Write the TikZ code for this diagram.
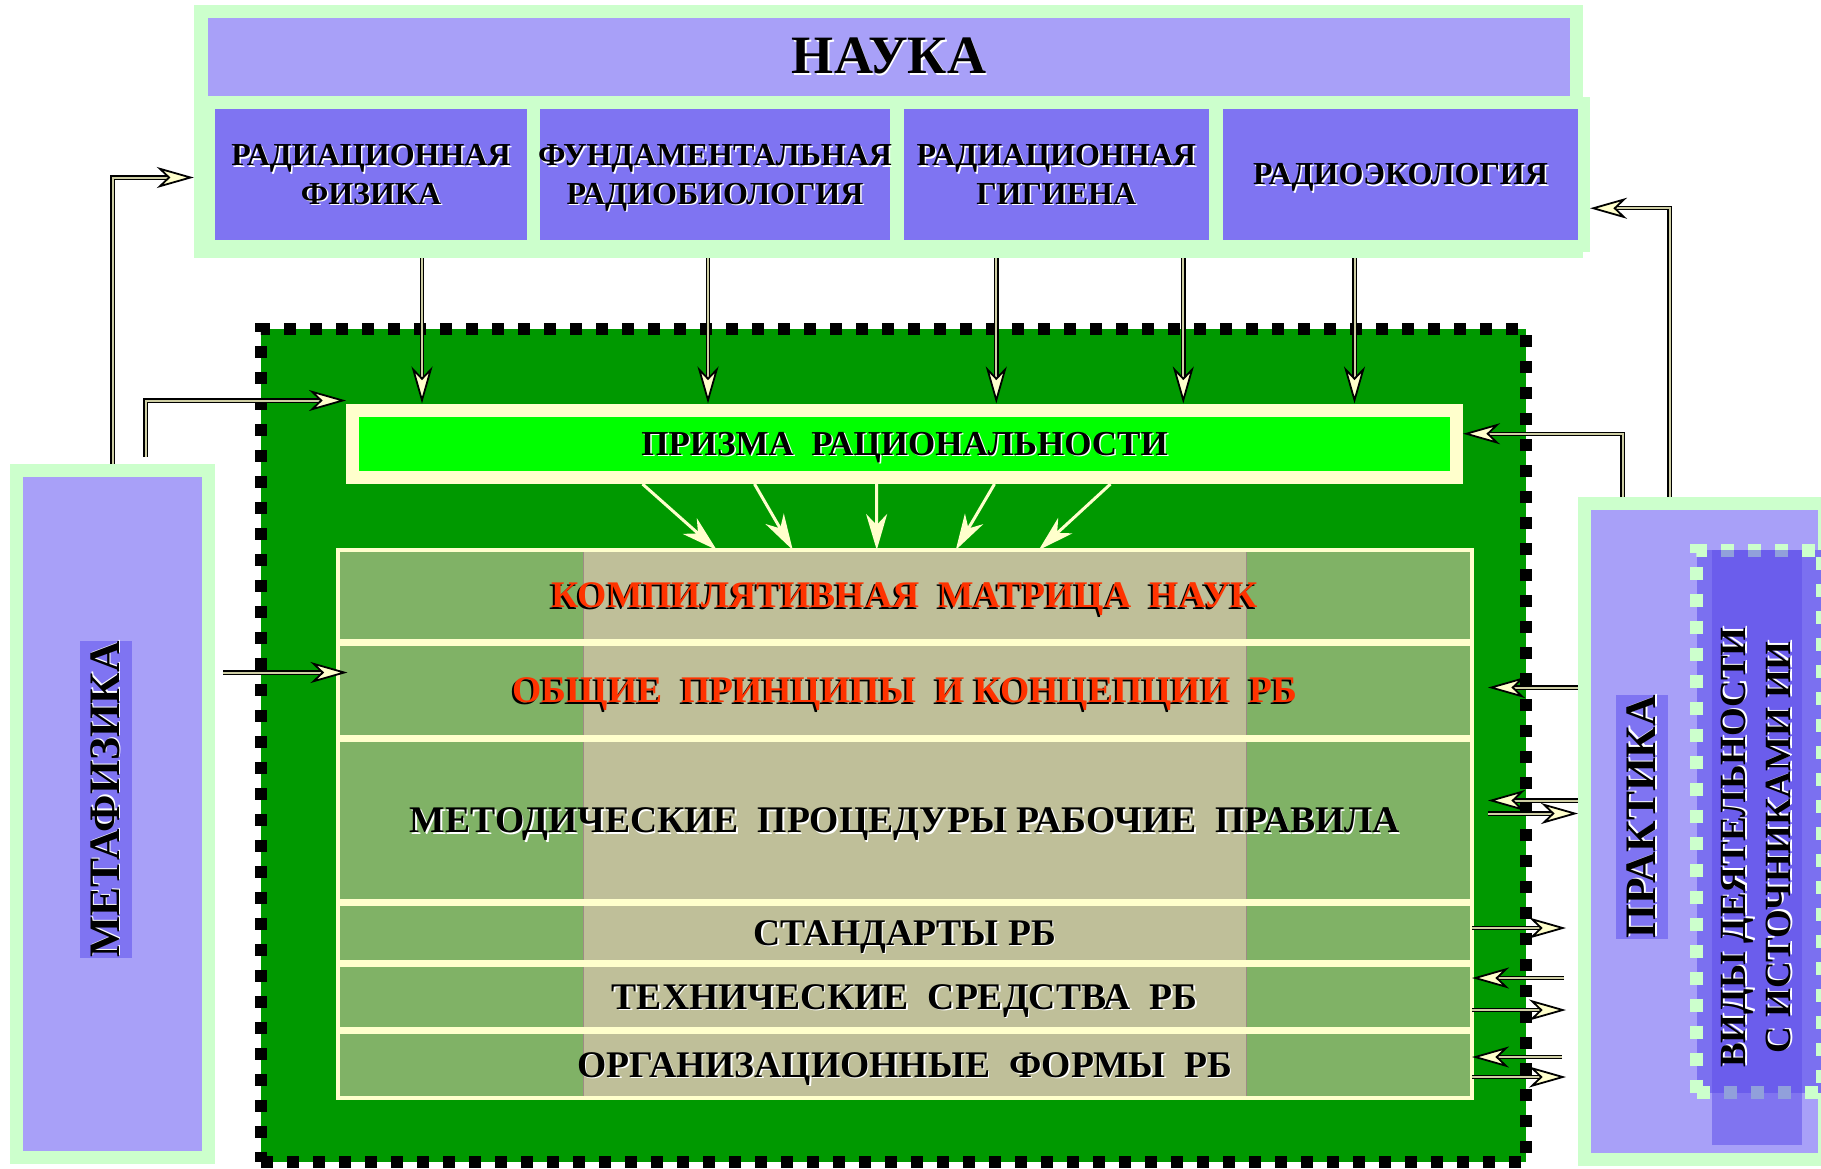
\documentclass[tikz,border=0pt]{standalone}
\usepackage{fontspec}
\setmainfont{Liberation Serif}
\usetikzlibrary{arrows.meta, positioning}

\definecolor{frmgreen}{HTML}{CCFFCC}
\definecolor{bandlav}{HTML}{A8A0F8}
\definecolor{subpurple}{HTML}{7F74F2}
\definecolor{midpurple}{HTML}{7B70F0}
\definecolor{deeppurple}{HTML}{5D4DE9}
\definecolor{coregreen}{HTML}{009900}
\definecolor{paleyel}{HTML}{FFFFCC}
\definecolor{prismgreen}{HTML}{00FF00}
\definecolor{rowgreen}{HTML}{80B266}
\definecolor{rowtan}{HTML}{BFBF99}
\definecolor{tanline}{HTML}{9C8C84}
\definecolor{hotred}{HTML}{FF3300}
\definecolor{lineyel}{HTML}{CFCFA5}

% text with a light shadow (black) or a dark shadow (red)
\newcommand{\shw}[1]{\leavevmode\rlap{\kern1.5pt\raisebox{-1.5pt}{\color{white}#1}}#1}
\newcommand{\shr}[1]{\leavevmode\rlap{\kern-2pt\raisebox{-2pt}{\color{black}#1}}{\color{hotred}#1}}

\begin{document}
\begin{tikzpicture}[x=1pt, y=-1pt,
    sciframe/.style={rectangle, fill=frmgreen, inner sep=0pt},
    band/.style={rectangle, fill=bandlav, inner sep=0pt, font=\bfseries\fontsize{54}{62}\selectfont},
    subbox/.style={rectangle, fill=subpurple, draw=frmgreen, line width=12pt, minimum height=142.5pt, inner sep=0pt, text depth=0pt, align=center, font=\bfseries\fontsize{32}{38.5}\selectfont},
    side/.style={rectangle, fill=bandlav, draw=frmgreen, line width=13pt},
    lbl/.style={rectangle, fill=subpurple, rotate=90, inner sep=0pt, font=\bfseries\fontsize{43.5}{50}\selectfont},
    corebox/.style={rectangle, fill=coregreen, draw=black, line width=12pt, dash pattern=on 12pt off 14pt},
    prismbox/.style={rectangle, fill=prismgreen, draw=paleyel, line width=13pt, inner sep=0pt, text depth=0pt, font=\bfseries\fontsize{35}{42}\selectfont},
    matrow/.style={rectangle, fill=rowgreen, draw=paleyel, line width=4pt, outer sep=0pt, minimum width=1134.5pt, inner sep=0pt, text depth=0pt, font=\bfseries\fontsize{37.6}{44}\selectfont,
        path picture={\fill[rowtan, draw=tanline, line width=1pt] ([xshift=245.5pt]path picture bounding box.south west) rectangle ([xshift=-226pt]path picture bounding box.north east);}},
    conn/.style={draw=black, line width=1.2pt, double=lineyel, double distance=2pt, -{Stealth[length=37pt, width=21pt, inset=11pt, line width=1.8pt, fill=paleyel]}},
    lite/.style={draw=paleyel, line width=3pt, -{Stealth[length=36pt, width=21pt, inset=11pt]}}
]
\useasboundingbox (0,0) rectangle (1821,1168);

% science block
\node (sci) [sciframe, minimum width=1389pt, minimum height=253pt] at (888.5,131.5) {};
\node (nauka) [band, minimum width=1362pt, minimum height=78pt] at (889,57) {\shw{НАУКА}};
\node (phys) [subbox, minimum width=324pt] at (371,174.25) {\shw{РАДИАЦИОННАЯ}\\\shw{ФИЗИКА}};
\node (biol) [subbox, minimum width=362pt] at (715,174.25) {\shw{ФУНДАМЕНТАЛЬНАЯ}\\\shw{РАДИОБИОЛОГИЯ}};
\node (hyg) [subbox, minimum width=317.4pt] at (1056.3,174.25) {\shw{РАДИАЦИОННАЯ}\\\shw{ГИГИЕНА}};
\node (eco) [subbox, minimum width=367pt] at (1400.5,174.25) {\shw{РАДИОЭКОЛОГИЯ}};

% metaphysics and practice
\node (meta) [side, minimum width=192pt, minimum height=687pt] at (112.5,814) {};
\node (metalbl) [lbl, minimum width=315pt, minimum height=52pt] at (106,799.5) {\shw{МЕТАФИЗИКА}};
\node (prakt) [side, minimum width=240pt, minimum height=656pt] at (1704.5,831.5) {};
\node (vidyframe) [rectangle, fill=midpurple, draw=frmgreen, line width=13pt, dash pattern=on 13pt off 14pt, minimum width=125.5pt, minimum height=542.5pt] at (1759.25,821.25) {};
\node (vidy) [rectangle, rotate=90, fill=deeppurple, fill opacity=0.53, text opacity=1, minimum width=595pt, minimum height=90pt, inner sep=0pt, align=center, font=\bfseries\fontsize{37}{45}\selectfont] at (1757,847.5) {\shw{ВИДЫ ДЕЯТЕЛЬНОСТИ}\\\shw{С ИСТОЧНИКАМИ ИИ}};
\node (praktlbl) [lbl, minimum width=244pt, minimum height=52pt] at (1642,817) {\shw{ПРАКТИКА}};

% core of radiation safety
\node (core) [corebox, minimum width=1265pt, minimum height=833pt] at (893.5,745.5) {};
\node (prism) [prismbox, minimum width=1104pt, minimum height=67.5pt] at (904.5,443.75) {\shw{ПРИЗМА~ РАЦИОНАЛЬНОСТИ}};
\node (mat1) [matrow, minimum height=91pt] at (904.75,595.5) {\shr{КОМПИЛЯТИВНАЯ~ МАТРИЦА~ НАУК}};
\node (mat2) [matrow, minimum height=93pt, below=3pt of mat1] {\shr{ОБЩИЕ~ ПРИНЦИПЫ~ И КОНЦЕПЦИИ~ РБ}};
\node (mat3) [matrow, minimum height=161pt, below=3pt of mat2] {\shw{МЕТОДИЧЕСКИЕ~ ПРОЦЕДУРЫ РАБОЧИЕ~ ПРАВИЛА}};
\node (mat4) [matrow, minimum height=58pt, below=3pt of mat3] {\shw{СТАНДАРТЫ РБ}};
\node (mat5) [matrow, minimum height=64pt, below=3pt of mat4] {\shw{ТЕХНИЧЕСКИЕ~ СРЕДСТВА~ РБ}};
\node (mat6) [matrow, minimum height=66pt, below=3pt of mat5] {\shw{ОРГАНИЗАЦИОННЫЕ~ ФОРМЫ~ РБ}};

% science -> prism -> matrix
\foreach \b/\dx in {phys/51, biol/-7, hyg/-60, hyg/127, eco/-46}
  \draw[conn] ([xshift=\dx pt]\b.south |- sci.south) -- ([xshift=\dx pt]\b.south |- prism.north);
\foreach \a/\e in {-262/-188, -150/-112, -28/-28, 90/51, 206/134}
  \draw[lite] ([xshift=\a pt]prism.south) -- ([xshift=\e pt]mat1.north);

% metaphysics links
\draw[conn] (meta.north) |- ([yshift=-46pt]sci.west);
\draw[conn, shorten <=7pt] ([xshift=33pt]meta.north) |- ([yshift=3pt]prism.north west);
\draw[conn, shorten <=8pt] ([yshift=18pt]mat2.west -| meta.east) -- ([yshift=18pt, xshift=10pt]mat2.west);

% practice links
\draw[conn] ([xshift=-35pt]prakt.north) |- ([yshift=-34pt]eco.east);
\draw[conn] ([xshift=-82pt]prakt.north) |- ([yshift=10pt]prism.east);
\draw[conn] ([yshift=3pt]mat2.east -| prakt.west) -- ([yshift=3pt, xshift=16pt]mat2.east);
\draw[conn] ([yshift=20pt]mat3.east -| prakt.west) -- ([yshift=20pt, xshift=16pt]mat3.east);
\draw[conn] ([yshift=7pt, xshift=16pt]mat3.east) -- ([yshift=7pt]mat3.east -| prakt.west);
\draw[conn, shorten >=12pt] ([yshift=5pt]mat4.east) -- ([yshift=5pt]mat4.east -| prakt.west);
\draw[conn, shorten <=14pt] ([yshift=19pt]mat5.east -| prakt.west) -- ([yshift=19pt]mat5.east);
\draw[conn, shorten >=12pt] ([yshift=-13pt]mat5.east) -- ([yshift=-13pt]mat5.east -| prakt.west);
\draw[conn, shorten <=16pt] ([yshift=8pt]mat6.east -| prakt.west) -- ([yshift=8pt]mat6.east);
\draw[conn, shorten >=12pt] ([yshift=-12pt]mat6.east) -- ([yshift=-12pt]mat6.east -| prakt.west);

\end{tikzpicture}
\end{document}
